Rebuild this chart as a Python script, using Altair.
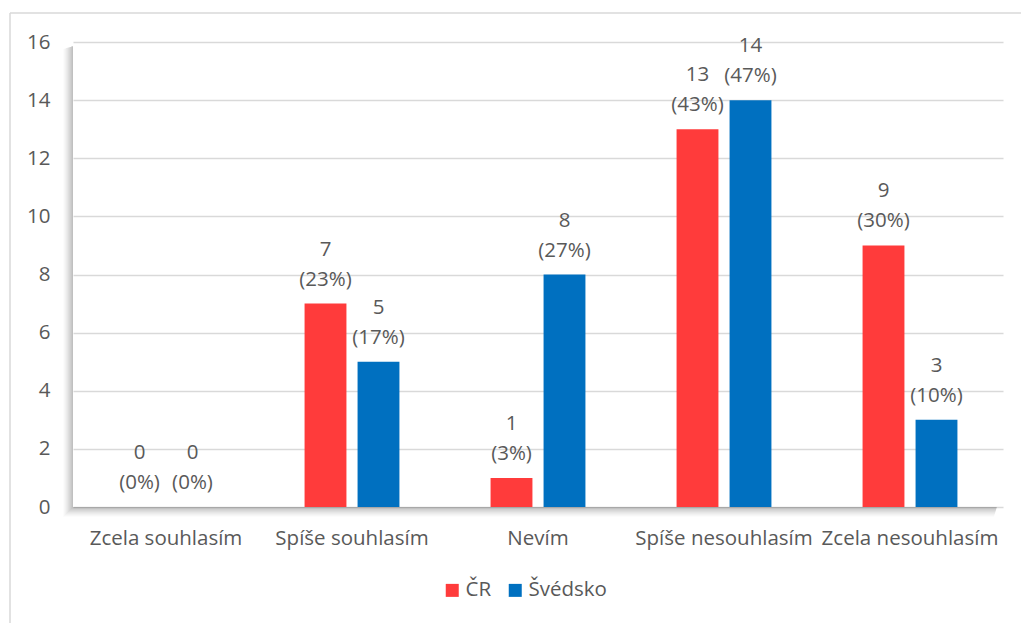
import altair as alt
import pandas as pd

# Survey answers, counts per country and their share of respondents
categories = ["Zcela souhlasím", "Spíše souhlasím", "Nevím", "Spíše nesouhlasím", "Zcela nesouhlasím"]
series = ["ČR", "Švédsko"]
cr_counts = [0, 7, 1, 13, 9]
se_counts = [0, 5, 8, 14, 3]
cr_pct = [0, 23, 3, 43, 30]
se_pct = [0, 17, 27, 47, 10]
colors = ["#FF3B3B", "#0070C0"]
y_ticks = [0, 2, 4, 6, 8, 10, 12, 14, 16]

rows = []
for i, cat in enumerate(categories):
    rows.append({"kategorie": cat, "zeme": series[0], "pocet": cr_counts[i], "podil": cr_pct[i]})
    rows.append({"kategorie": cat, "zeme": series[1], "pocet": se_counts[i], "podil": se_pct[i]})
df = pd.DataFrame(rows)
df["popisek"] = [f"{n}\n({p}%)" for n, p in zip(df["pocet"], df["podil"])]

W, H = 930, 465
FONT = "Open Sans"
FS = 20.5
GREY = "#595959"

x = alt.X(
    "kategorie:N", sort=categories, title=None,
    scale=alt.Scale(paddingInner=0.49, paddingOuter=0.245),
    axis=alt.Axis(labelAngle=0, labelFontSize=FS, labelColor=GREY, labelFont=FONT,
                  labelPadding=21, ticks=False, tickSize=0, domain=False, grid=False),
)
y = alt.Y(
    "pocet:Q", title=None, scale=alt.Scale(domain=[0, 16], nice=False),
    axis=alt.Axis(values=y_ticks, labelFontSize=FS, labelColor=GREY, labelFont=FONT,
                  labelPadding=23, ticks=False, tickSize=0, domain=False,
                  gridColor="#D9D9D9", gridWidth=1.5),
)
xoff = alt.XOffset("zeme:N", sort=series, scale=alt.Scale(paddingInner=0.21, paddingOuter=0))
color = alt.Color(
    "zeme:N", sort=series, scale=alt.Scale(domain=series, range=colors),
    legend=alt.Legend(title=None, orient="none", legendX=369, legendY=538, direction="horizontal",
                      symbolType="square", symbolSize=169, symbolStrokeWidth=0,
                      labelFontSize=FS, labelColor=GREY, labelFont=FONT,
                      columnPadding=13, labelOffset=3),
)

one = pd.DataFrame({"a": [0]})

# outer chart frame
frame_top = alt.Chart(one).mark_rule(color="#D9D9D9", strokeWidth=1.5).encode(
    x=alt.value(-63), x2=alt.value(960), y=alt.value(-29))
frame_left = alt.Chart(one).mark_rule(color="#D9D9D9", strokeWidth=1.5).encode(
    x=alt.value(-63), y=alt.value(-29), y2=alt.value(600))

# soft drop shadow along the left and bottom edges of the plot area
shadow = []
for d in range(1, 11):
    op = 0.42 * (1 - d / 11) ** 1.3
    shadow.append(alt.Chart(one).mark_rect(color="#555555", opacity=op).encode(
        x=alt.value(-d), x2=alt.value(-d + 1), y=alt.value(4 + d * 0.3), y2=alt.value(H + d)))
    shadow.append(alt.Chart(one).mark_rect(color="#555555", opacity=op).encode(
        x=alt.value(-d + 1), x2=alt.value(W - 6 - d * 0.3), y=alt.value(H + d - 1), y2=alt.value(H + d)))

bars = alt.Chart(df).mark_bar().encode(x=x, y=y, xOffset=xoff, color=color)
# two-line value labels: count on top, share below, sitting above each bar
labels = alt.Chart(df).mark_text(
    baseline="alphabetic", dy=-48, lineHeight=30, fontSize=FS, color=GREY, font=FONT, lineBreak="\n"
).encode(x=x, y=y, xOffset=xoff, text="popisek:N")

chart = alt.layer(frame_top, frame_left, *shadow, bars, labels).properties(
    width=W, height=H,
    autosize=alt.AutoSizeParams(type="none"),
    padding={"left": 73, "top": 42, "right": 18, "bottom": 116},
    background="white",
).configure_view(stroke=None)

chart.save("out.html", embed_options={"renderer": "svg", "actions": False})
